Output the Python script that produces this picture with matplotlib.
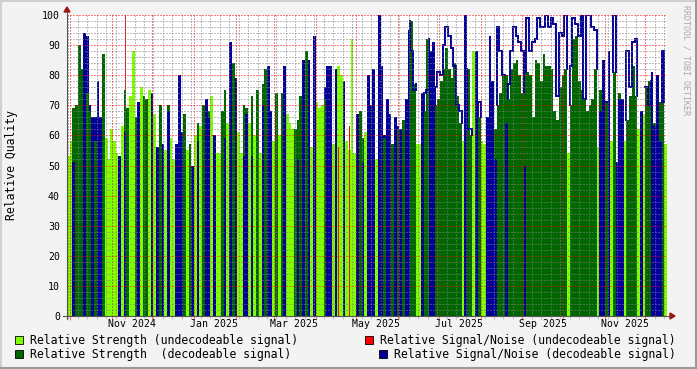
import numpy as np
import matplotlib.pyplot as plt
import matplotlib.dates as mdates
from matplotlib.patches import Rectangle, Polygon

plt.rcParams['font.family'] = 'DejaVu Sans Mono'

# two-day bins starting at 2024-09-29
start = np.datetime64('2024-09-29')
# L = undecodeable (light green strength), G = decodeable, strength drawn over snr,
# B = decodeable, snr drawn over strength
kind = ("LLBGGGBGGB" "GBBGLLLLLB" "LBGLLGBLGG" "LBLBGBLBLL" "BBBGLGBLBL"
        "GBBLBLLGBL" "BGBLLBBLBL" "GLBGBBLGLG" "BLLLGBGBGB" "LBLLLGBBLB"
        "LLBLLLLBGB" "LBBBLBBGBB" "GBGBGBBGGL" "LBGGBBGGGG" "GGGGGGLBGG"
        "LBGLLBBBBG" "GGBGGGGGGB" "GGGGGGGGGG" "GGGGGLGGGG" "GGGGGGLBBG"
        "BLGBBBLGGG" "GLBLGGBBBB" "GL")
strength = [53, 58, 69, 70, 90, 82, 0, 74, 68, 58,
            58, 60, 58, 87, 59, 52, 62, 58, 54, 0,
            63, 75, 69, 73, 88, 66, 0, 76, 73, 72,
            75, 0, 67, 0, 70, 0, 55, 70, 59, 52,
            0, 0, 0, 67, 55, 57, 0, 60, 64, 63,
            70, 0, 68, 73, 0, 54, 54, 68, 75, 64,
            0, 84, 66, 61, 54, 70, 69, 64, 73, 60,
            75, 54, 77, 82, 0, 0, 58, 74, 60, 74,
            0, 67, 64, 62, 62, 65, 73, 0, 88, 0,
            56, 0, 71, 69, 70, 72, 65, 65, 57, 0,
            83, 80, 57, 58, 55, 92, 54, 55, 68, 59,
            61, 59, 59, 0, 52, 99, 57, 59, 63, 57,
            57, 60, 62, 57, 65, 63, 63, 98, 77, 57,
            57, 65, 68, 92, 83, 76, 70, 72, 78, 82,
            89, 82, 79, 84, 73, 64, 58, 58, 82, 60,
            88, 64, 66, 58, 57, 57, 0, 0, 62, 70,
            74, 80, 80, 72, 82, 84, 85, 80, 74, 83,
            81, 80, 66, 85, 84, 78, 87, 83, 83, 82,
            68, 65, 76, 80, 82, 54, 70, 92, 93, 78,
            75, 72, 68, 70, 72, 82, 56, 75, 62, 71,
            70, 58, 81, 0, 74, 63, 58, 65, 73, 83,
            73, 62, 0, 67, 76, 78, 70, 64, 64, 71,
            71, 57]
snr = [0, 0, 51, 67, 85, 76, 94, 93, 70, 66,
       66, 78, 66, 80, 0, 0, 0, 0, 0, 53,
       0, 61, 67, 0, 0, 58, 71, 0, 0, 61,
       0, 74, 0, 56, 0, 57, 0, 68, 0, 0,
       57, 80, 61, 0, 0, 0, 50, 0, 58, 0,
       68, 72, 66, 0, 60, 0, 0, 0, 59, 0,
       91, 77, 79, 0, 0, 53, 67, 0, 53, 0,
       71, 0, 70, 70, 83, 68, 0, 50, 0, 65,
       83, 0, 0, 0, 0, 52, 0, 85, 72, 85,
       0, 93, 0, 0, 0, 76, 83, 83, 0, 82,
       0, 0, 78, 0, 0, 0, 0, 67, 67, 51,
       0, 80, 70, 82, 0, 100, 83, 60, 72, 67,
       52, 66, 63, 62, 63, 72, 95, 88, 75, 0,
       0, 74, 74, 75, 88, 91, 76, 81, 80, 90,
       96, 93, 89, 83, 70, 68, 0, 100, 62, 62,
       0, 88, 71, 0, 0, 66, 93, 78, 52, 96,
       88, 80, 64, 77, 88, 96, 93, 91, 88, 50,
       99, 88, 91, 92, 99, 96, 96, 100, 96, 99,
       97, 73, 94, 93, 100, 0, 83, 99, 97, 93,
       100, 72, 100, 100, 96, 95, 0, 68, 85, 0,
       88, 0, 100, 51, 72, 72, 0, 88, 76, 91,
       92, 0, 68, 0, 0, 70, 81, 63, 80, 58,
       88, 0]
red_idx = [21, 100, 104, 212]
red_val = [100, 56, 63, 52]

label_days = ['2024-11-16', '2025-01-16', '2025-03-16', '2025-05-16',
              '2025-07-16', '2025-09-16', '2025-11-16']
label_text = ['Nov 2024', 'Jan 2025', 'Mar 2025', 'May 2025',
              'Jul 2025', 'Sep 2025', 'Nov 2025']

legend_text = ['Relative Strength (undecodeable signal)',
               'Relative Strength  (decodeable signal)',
               'Relative Signal/Noise (undecodeable signal)',
               'Relative Signal/Noise (decodeable signal)']

c_light = '#80ff00'
c_dark = '#006600'
c_red = '#ff0000'
c_blue = '#000099'

kind = np.array(list(kind))
strength = np.array(strength, float)
snr = np.array(snr, float)
n = len(strength)
x = mdates.date2num(start + np.arange(n) * np.timedelta64(2, 'D'))

W, H = 697, 369
fig = plt.figure(figsize=(W / 100, H / 100), dpi=100, facecolor='#f3f3f3')
ax = fig.add_axes([67 / W, (H - 316) / H, 600 / W, 301 / H])
ax.set_facecolor('white')

isL = kind == 'L'
isB = kind == 'B'
idx = np.arange(n)
# from May 2025 on the snr of decodeable days shows as an outline (rrd LINE)
isG = (kind == 'G') & (idx < 126)
isGo = (kind == 'G') & (idx >= 126)
bw = dict(width=2, align='edge', linewidth=0, antialiased=False)

ax.bar(x[isL], strength[isL], color=c_light, zorder=1.0, **bw)
ax.bar(x[red_idx] + 0.6, red_val, width=0.8, align='edge', linewidth=0,
       color=c_red, zorder=1.1)
# lower layer
ax.bar(x[isG], snr[isG], color=c_blue, zorder=1.2, **bw)
ax.bar(x[isB], strength[isB], color=c_dark, zorder=1.2, **bw)
# upper layer
ax.bar(x[isG], strength[isG], color=c_dark, zorder=1.3, **bw)
ax.bar(x[isGo], strength[isGo], color=c_dark, zorder=1.3, **bw)
ax.bar(x[isB], snr[isB], color=c_blue, zorder=1.3, **bw)

# snr outline over runs of decodeable days
top = np.where(snr > 0, snr, strength)
i = 0
while i < n:
    if not isGo[i]:
        i += 1
        continue
    j = i
    while j + 1 < n and isGo[j + 1]:
        j += 1
    xs = [x[i]]
    ys = [strength[i]]
    for k in range(i, j + 1):
        xs += [x[k], x[k] + 2]
        ys += [top[k], top[k]]
    xs.append(x[j] + 2)
    ys.append(strength[j])
    ax.plot(xs, ys, color=c_blue, lw=1.4, zorder=1.4, solid_joinstyle='miter')
    i = j + 1

ax.set_xlim(x[0], x[0] + 2 * n)
ax.set_ylim(0, 100)
ax.set_axisbelow(False)
ax.set_yticks(range(0, 101, 10))
ax.set_yticks(range(0, 101, 2), minor=True)
ax.xaxis.set_major_locator(mdates.MonthLocator())
ax.xaxis.set_minor_locator(mdates.WeekdayLocator(byweekday=mdates.MO))
ax.set_xticklabels([])
ax.tick_params(axis='y', which='both', length=0, pad=5, labelsize=7.1)
ax.tick_params(axis='x', which='major', length=3, direction='out',
               color=(1, 0, 0, 0.5), width=0.8)
ax.tick_params(axis='x', which='minor', length=2, direction='out',
               color=(0.5, 0.5, 0.5, 0.4), width=0.8)
ax.grid(which='minor', color=(0.5, 0.5, 0.5, 0.22), ls=(0, (1, 2)),
        lw=0.72, snap=True)
ax.grid(which='major', color=(1, 0, 0, 0.26), ls=(0, (1, 2)),
        lw=0.72, snap=True)
for s in ax.spines.values():
    s.set_visible(False)

for d, t in zip(label_days, label_text):
    ax.text(mdates.date2num(np.datetime64(d)), -0.027, t, fontsize=7.1,
            ha='center', va='center', transform=ax.get_xaxis_transform())

fig.text(12 / W, 1 - 165 / H, 'Relative Quality', rotation=90, fontsize=8.3,
         ha='center', va='center')
fig.text(686 / W, 1 - 60 / H, 'RRDTOOL / TOBI OETIKER', rotation=270,
         fontsize=6, color='#aaaaaa', ha='center', va='center')

# overlay in pixel coordinates for axis arrows, legend and frame
ov = fig.add_axes([0, 0, 1, 1], zorder=10)
ov.set_xlim(0, W)
ov.set_ylim(H, 0)
ov.axis('off')
ov.patch.set_alpha(0)

ov.plot([67, 67], [319, 11], color='#555555', lw=0.8)
ov.plot([63, 670], [316, 316], color='#555555', lw=0.8)
ov.add_patch(Polygon([(64, 12), (70, 12), (67, 7)], color='#a01010'))
ov.add_patch(Polygon([(670, 313), (670, 319), (675, 316)], color='#a01010'))

boxes = [(15, 336), (15, 350), (365, 336), (379, 350)]
cols = [c_light, c_dark, c_red, c_blue]
for (bx, by), c, t in zip(boxes, cols, legend_text):
    ov.add_patch(Rectangle((bx, by), 8, 8, facecolor=c, edgecolor='black', lw=0.6))
    ov.text(bx + 15, by + 4.5, t, fontsize=8.3, ha='left', va='center')

ov.plot([0, W], [0.7, 0.7], color='#d0d0d0', lw=1.5)
ov.plot([0.7, 0.7], [0, H], color='#d0d0d0', lw=1.5)
ov.plot([0, W], [H - 1, H - 1], color='#9a9a9a', lw=1.5)
ov.plot([W - 1, W - 1], [0, H], color='#9a9a9a', lw=1.5)

fig.savefig('out.png', dpi=100, facecolor=fig.get_facecolor())
